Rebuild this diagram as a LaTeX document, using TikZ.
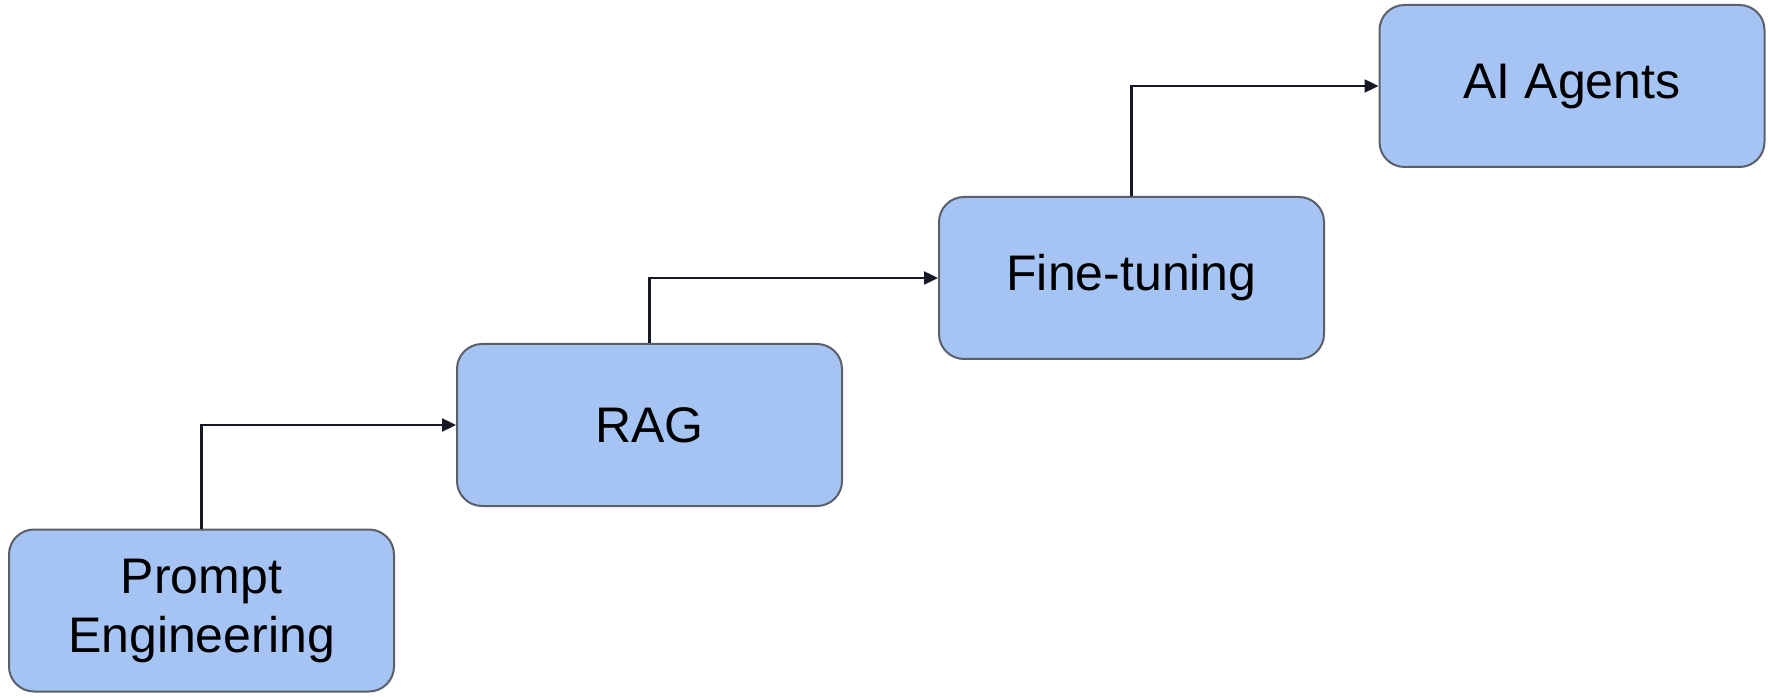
\documentclass[tikz,border=0pt]{standalone}
\usepackage{fontspec}
\setmainfont{Liberation Sans}
\usetikzlibrary{arrows.meta}
\definecolor{stagefill}{HTML}{A5C3F3}
\definecolor{stageline}{HTML}{5A5F6A}
\definecolor{linkcol}{HTML}{161A26}
\tikzset{stage/.style={draw=stageline,line width=1pt,fill=stagefill,rounded corners=12.5pt,minimum width=192.5pt,minimum height=81pt,align=center,font=\fontsize{25}{29.5}\selectfont},
  link/.style={draw=linkcol,line width=1.2pt,-{Triangle[length=7pt,width=6.5pt]}}}
\begin{document}
\begin{tikzpicture}[x=.5pt,y=.5pt]
\useasboundingbox (0,0) rectangle (1768,697);
\node[stage] (pe) at (201.5,86.5){Prompt\\Engineering};
\node[stage] (rag) at (649.5,272){RAG};
\node[stage] (ft) at (1131.5,419){Fine-tuning};
\node[stage] (ag) at (1572,611){AI Agents};
% each stage feeds the next one, up then across
\draw[link] (pe.north) |- (rag.west);\draw[link] (rag.north) |- (ft.west);\draw[link] (ft.north) |- (ag.west);
\end{tikzpicture}
\end{document}
